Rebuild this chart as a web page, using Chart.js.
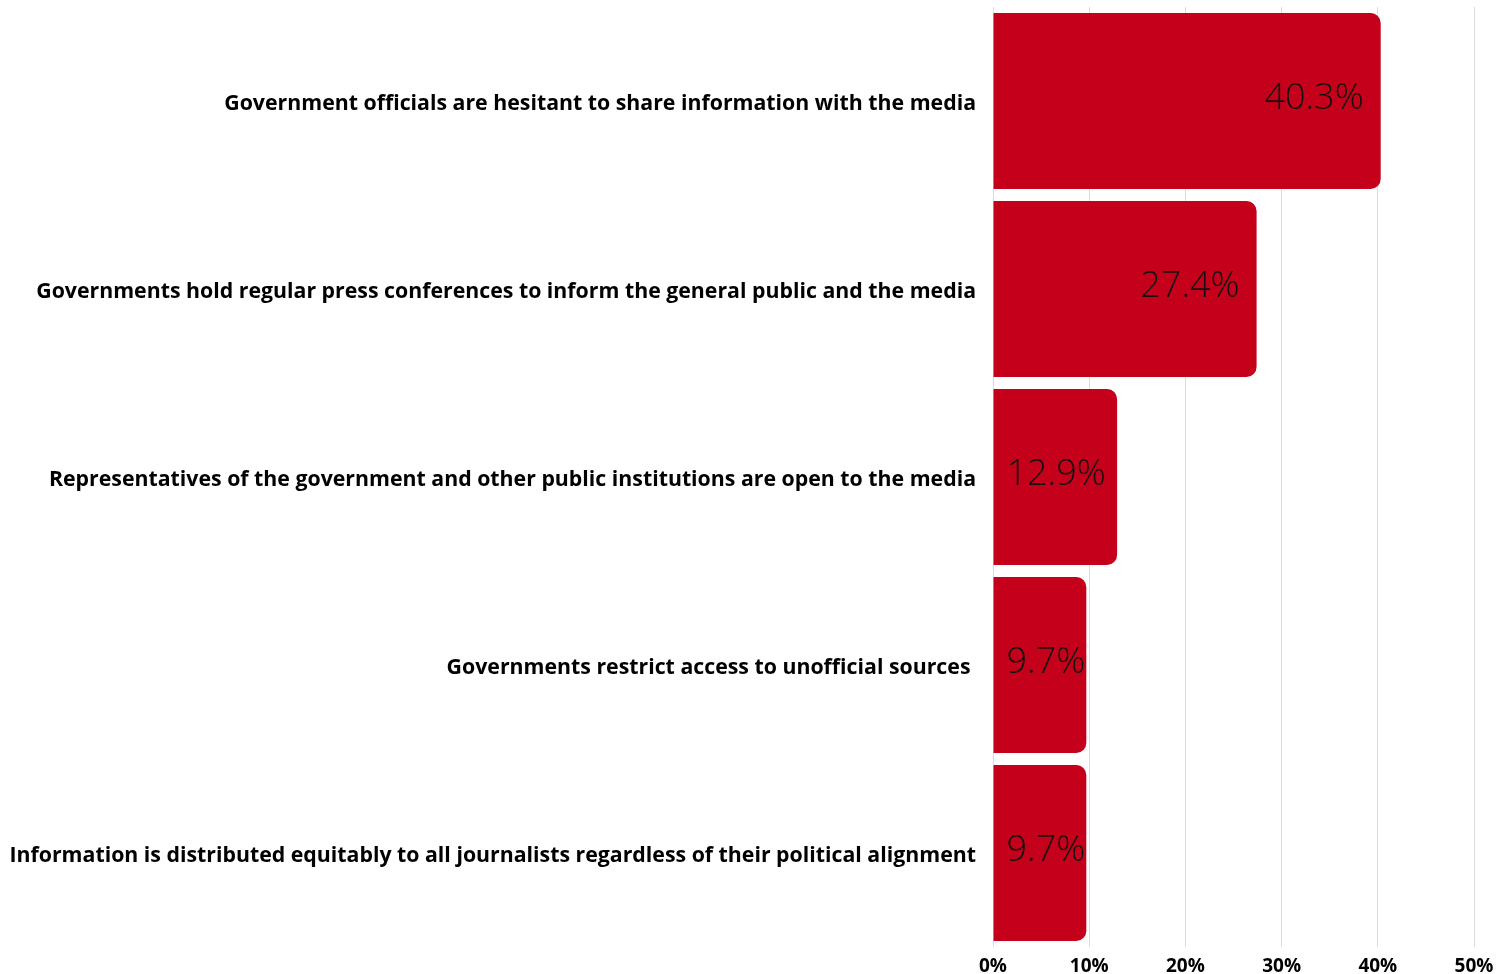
<!DOCTYPE html>
<html>
<head>
<meta charset="utf-8">
<title>Access to information</title>
<script src="https://cdn.jsdelivr.net/npm/chart.js@4/dist/chart.umd.min.js"></script>
<style>
  html, body { margin: 0; padding: 0; background: #fff; }
  #wrap { width: 1511px; height: 974px; position: relative; }
</style>
</head>
<body>
<div id="wrap"><canvas id="myChart"></canvas></div>
<script>
var labels = [
  "Government officials are hesitant to share information with the media",
  "Governments hold regular press conferences to inform the general public and the media",
  "Representatives of the government and other public institutions are open to the media",
  "Governments restrict access to unofficial sources ",
  "Information is distributed equitably to all journalists regardless of their political alignment"
];
var values = [40.3, 27.4, 12.9, 9.7, 9.7];
var xTicks = [0, 10, 20, 30, 40, 50];

// writes the percentage inside the end of each bar
var valueLabels = {
  id: 'valueLabels',
  afterDatasetsDraw: function(chart) {
    var ctx = chart.ctx;
    var meta = chart.getDatasetMeta(0);
    ctx.save();
    ctx.font = '300 36px "Open Sans"';
    ctx.fillStyle = '#111';
    ctx.textAlign = 'left';
    ctx.textBaseline = 'middle';
    meta.data.forEach(function(bar, i) {
      var txt = values[i].toFixed(1) + '%';
      var w = ctx.measureText(txt).width;
      var tx = Math.max(bar.x - 17 - w, bar.base + 13);
      ctx.fillText(txt, tx, bar.y - 2);
    });
    ctx.restore();
  }
};

function renderChart() {
  var ctx = document.getElementById("myChart").getContext('2d');
  new Chart(ctx, {
    type: 'bar',
    data: {
      labels: labels,
      datasets: [{
        data: values,
        backgroundColor: '#c4001a',
        borderRadius: 10,
        borderSkipped: 'start',
        barPercentage: 0.936,
        categoryPercentage: 1
      }]
    },
    options: {
      indexAxis: 'y',
      responsive: true,
      maintainAspectRatio: false,
      animation: false,
      layout: { padding: { top: 7, right: 37, left: 0, bottom: 0 } },
      plugins: {
        legend: { display: false },
        tooltip: { enabled: false }
      },
      scales: {
        x: {
          min: 0,
          max: 50,
          afterBuildTicks: function(scale) {
            scale.ticks = xTicks.map(function(v) { return { value: v }; });
          },
          afterFit: function(scale) {
            scale.height = 27;
            scale.paddingLeft = 0;
            scale.paddingRight = 0;
          },
          grid: { color: '#dcdcdc', drawTicks: false },
          border: { display: false },
          ticks: {
            padding: 8,
            color: '#000',
            font: { family: '"Open Sans"', size: 19, weight: 'bold' },
            callback: function(v) { return v + '%'; }
          }
        },
        y: {
          afterFit: function(scale) {
            scale.width = 993;
            scale.paddingTop = 0;
            scale.paddingBottom = 0;
          },
          grid: { display: false, drawTicks: false },
          border: { display: false },
          ticks: {
            padding: 17,
            labelOffset: 3,
            color: '#000',
            font: { family: '"Open Sans"', size: 21.3, weight: 'bold' }
          }
        }
      }
    },
    plugins: [valueLabels]
  });
}

renderChart();
</script>
</body>
</html>
